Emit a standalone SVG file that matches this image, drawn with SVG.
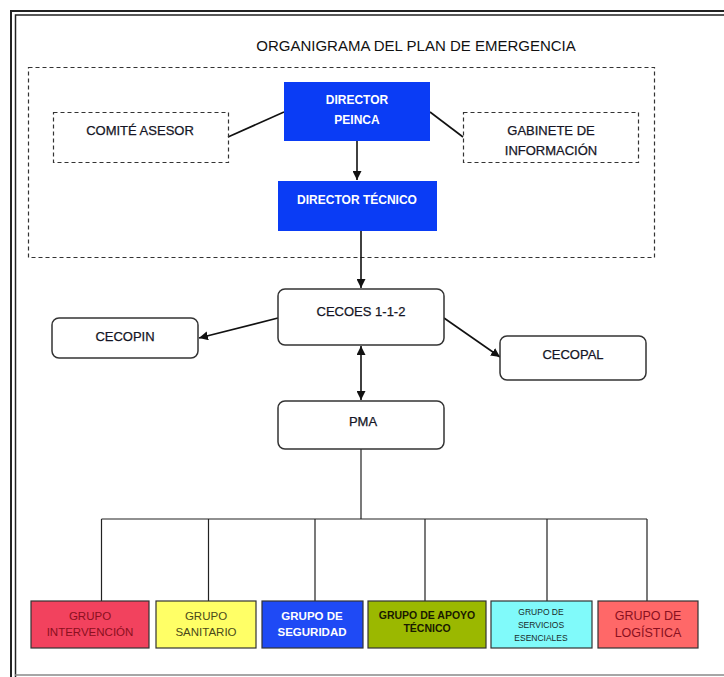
<svg xmlns="http://www.w3.org/2000/svg" width="724" height="677" viewBox="0 0 724 677">
<defs>
<marker id="arr" viewBox="0 0 10 10" refX="10" refY="5" markerWidth="9" markerHeight="9" markerUnits="userSpaceOnUse" orient="auto-start-reverse">
<path d="M0,0 L10,5 L0,10 z" fill="#111"/>
</marker>
<style>
text{font-family:"Liberation Sans",Arial,sans-serif;text-anchor:middle}
.t{font-size:15px;fill:#111}
.dash{fill:none;stroke:#333;stroke-width:1.2;stroke-dasharray:4,3}
.blue{fill:#0a3cf5}
.wb{fill:#fff;font-weight:bold;font-size:12px}
.lbl{fill:#151525;font-size:13px;stroke:#151525;stroke-width:0.25}
.rnd{fill:#fff;stroke:#333;stroke-width:1.5}
.grp{stroke:#333;stroke-width:1.2}
.con{fill:none;stroke:#111;stroke-width:1.6}
.bus{fill:none;stroke:#222;stroke-width:1.2}
</style>
</defs>
<rect width="724" height="677" fill="#fff"/>
<g id="frame" fill="none">
<path d="M11,677 V11 H724" stroke="#222" stroke-width="2"/>
<path d="M15.5,677 V15 H724" stroke="#222" stroke-width="1.5"/>
<path d="M15,675 H724" stroke="#888" stroke-width="1.5"/>
</g>
<text class="t" x="416" y="51">ORGANIGRAMA DEL PLAN DE EMERGENCIA</text>
<g id="plan-container"><rect class="dash" x="28.5" y="67.5" width="626" height="190"/></g>
<g id="connectors">
<line class="con" x1="228" y1="137" x2="284" y2="112"/>
<line class="con" x1="430" y1="112" x2="463" y2="137"/>
<line class="con" x1="357" y1="141" x2="357" y2="180" marker-end="url(#arr)"/>
<line class="con" x1="361" y1="230" x2="361" y2="288" marker-end="url(#arr)"/>
<line class="con" x1="278" y1="318" x2="199" y2="338" marker-end="url(#arr)"/>
<line class="con" x1="444" y1="318" x2="500" y2="357" marker-end="url(#arr)"/>
<line class="con" x1="361" y1="346" x2="361" y2="400" marker-start="url(#arr)" marker-end="url(#arr)"/>
<path class="bus" d="M361,449 V519 M101.5,519 H647 M101.5,519 V601 M208.5,519 V601 M315,519 V601 M425,519 V601 M547,519 V601 M647,519 V601"/>
</g>
<g id="comite"><rect class="dash" x="53.5" y="112.5" width="175" height="50"/><text class="lbl" x="140" y="135">COMITÉ ASESOR</text></g>
<g id="director-peinca"><rect class="blue" x="284" y="82" width="146" height="59"/><text class="wb" x="357" y="104">DIRECTOR</text><text class="wb" x="357" y="124">PEINCA</text></g>
<g id="gabinete"><rect class="dash" x="463.5" y="112.5" width="175" height="50"/><text class="lbl" x="551" y="135">GABINETE DE</text><text class="lbl" x="551" y="155">INFORMACIÓN</text></g>
<g id="director-tecnico"><rect class="blue" x="278" y="181" width="159" height="50"/><text class="wb" x="357" y="204">DIRECTOR TÉCNICO</text></g>
<g id="cecoes"><rect class="rnd" x="278" y="289" width="166" height="56" rx="7"/><text class="lbl" x="361" y="316">CECOES 1-1-2</text></g>
<g id="cecopin"><rect class="rnd" x="52" y="318" width="146" height="40" rx="7"/><text class="lbl" x="125" y="341">CECOPIN</text></g>
<g id="cecopal"><rect class="rnd" x="500" y="336" width="146" height="44" rx="7"/><text class="lbl" x="573" y="359">CECOPAL</text></g>
<g id="pma"><rect class="rnd" x="278" y="401" width="166" height="48" rx="7"/><text class="lbl" x="363" y="426">PMA</text></g>
<g id="g-intervencion"><rect class="grp" x="31" y="601" width="118" height="47" fill="#f2425e"/><text x="90" y="620" font-size="11.5" fill="#8a1020">GRUPO</text><text x="90" y="636" font-size="11.5" fill="#8a1020">INTERVENCIÓN</text></g>
<g id="g-sanitario"><rect class="grp" x="156" y="601" width="100" height="47" fill="#ffff66"/><text x="206" y="620" font-size="11.5" fill="#4a4a1a">GRUPO</text><text x="206" y="636" font-size="11.5" fill="#4a4a1a">SANITARIO</text></g>
<g id="g-seguridad"><rect class="grp" x="262" y="601" width="101" height="47" fill="#1f4af5"/><text x="312" y="620" font-size="11.5" font-weight="bold" fill="#fff">GRUPO DE</text><text x="312" y="636" font-size="11.5" font-weight="bold" fill="#fff">SEGURIDAD</text></g>
<g id="g-apoyo"><rect class="grp" x="368" y="601" width="118" height="47" fill="#9bb800"/><text x="427" y="619" font-size="10.5" font-weight="bold" fill="#1a1a00">GRUPO DE APOYO</text><text x="427" y="632" font-size="10.5" font-weight="bold" fill="#1a1a00">TÉCNICO</text></g>
<g id="g-servicios"><rect class="grp" x="491" y="601" width="101" height="47" fill="#80fafa"/><text x="541" y="615" font-size="8.5" fill="#1a2a2a">GRUPO DE</text><text x="541" y="628" font-size="8.5" fill="#1a2a2a">SERVICIOS</text><text x="541" y="641" font-size="8.5" fill="#1a2a2a">ESENCIALES</text></g>
<g id="g-logistica"><rect class="grp" x="598" y="601" width="100" height="47" fill="#ff6868"/><text x="648" y="620" font-size="12.5" fill="#8a1020">GRUPO DE</text><text x="648" y="637" font-size="12.5" fill="#8a1020">LOGÍSTICA</text></g>
</svg>
